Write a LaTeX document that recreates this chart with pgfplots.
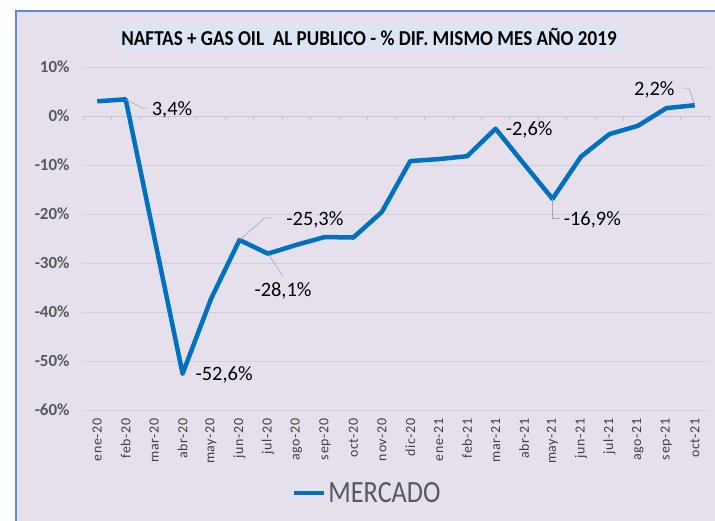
\documentclass[border=0pt]{standalone}
\usepackage{pgfplots}
\pgfplotsset{compat=1.18}
\usepackage{fontspec}
\setmainfont{Carlito}
\newfontfamily\titlefont{Carlito}[FakeStretch=0.9]
\newfontfamily\legfont{Carlito}[FakeStretch=0.85]
\newfontfamily\xtfont{Carlito}[LetterSpace=5]
\definecolor{bgc}{HTML}{E5E0EC}
\definecolor{bordc}{HTML}{5B8BD0}
\definecolor{titlebg}{HTML}{DCE6F2}
\definecolor{linec}{HTML}{0070C0}
\definecolor{gridc}{HTML}{D4D0DA}
\definecolor{zeroc}{HTML}{C8C4CE}
\definecolor{leaderc}{HTML}{A6A6A6}
\definecolor{ytc}{HTML}{595959}
\definecolor{xtc}{HTML}{404040}
\definecolor{legc}{HTML}{595959}
\begin{document}
\begin{tikzpicture}
\useasboundingbox (0bp,0bp) rectangle (715bp,521bp);
\fill[white] (0bp,0bp) rectangle (715bp,521bp);
\fill[bgc] (16bp,0bp) rectangle (715bp,510bp);
\draw[bordc, line width=1.5bp] (16bp,0bp) -- (16bp,510bp) -- (715bp,510bp);
\node[fill=titlebg, inner xsep=4bp, inner ysep=4bp, text=black, font=\titlefont\bfseries\fontsize{21.3}{21.3}\selectfont] at (369bp,484bp) {NAFTAS + GAS OIL\ \ AL PUBLICO - \% DIF. MISMO MES AÑO 2019};
\begin{axis}[
  at={(83bp,111bp)}, anchor=south west,
  scale only axis, width=626bp, height=343bp,
  xmin=-0.5, xmax=21.5, ymin=-60, ymax=10,
  axis line style={draw=none},
  major tick length=0pt,
  ytick={-60,-50,-40,-30,-20,-10,0,10},
  yticklabels={-60\%,-50\%,-40\%,-30\%,-20\%,-10\%,0\%,10\%},
  yticklabel style={font=\bfseries\fontsize{17}{17}\selectfont, text=ytc, xshift=-10bp},
  ymajorgrids, grid style={gridc, line width=0.8bp},
  xtick={0,...,21},
  xticklabels={ene-20,feb-20,mar-20,abr-20,may-20,jun-20,jul-20,ago-20,sep-20,oct-20,nov-20,dic-20,ene-21,feb-21,mar-21,abr-21,may-21,jun-21,jul-21,ago-21,sep-21,oct-21},
  xticklabel style={rotate=90, anchor=east, font=\xtfont\fontsize{14}{14}\selectfont, text=xtc, xshift=-5bp},
  clip=false,
  legend style={at={(axis description cs:0.454,-0.242)}, anchor=center, draw=none, fill=none, font=\legfont\fontsize{31}{31}\selectfont, text=legc, inner sep=0pt},
  legend image code/.code={\draw[#1, line width=4.5bp] (0bp,0bp) -- (30bp,0bp);},
]
\draw[zeroc, line width=0.8bp] (axis cs:-0.5,0) -- (axis cs:21.5,0);
\pgfplotsforeachungrouped \i in {-0.5,0.5,1.5,2.5,3.5,4.5,5.5,6.5,7.5,8.5,9.5,10.5,11.5,12.5,13.5,14.5,15.5,16.5,17.5,18.5,19.5,20.5,21.5}{%
  \edef\temp{\noexpand\draw[zeroc, line width=0.8bp] (axis cs:\i,0) -- (axis cs:\i,-1);}\temp}
\addplot[color=linec, line width=4.5bp, line join=round] coordinates {
(0,3.0) (1,3.4) (2,-24.6) (3,-52.6) (4,-37.3) (5,-25.3) (6,-28.1) (7,-26.3)
(8,-24.7) (9,-24.8) (10,-19.6) (11,-9.2) (12,-8.8) (13,-8.2) (14,-2.6)
(15,-9.8) (16,-16.9) (17,-8.3) (18,-3.7) (19,-2.0) (20,1.6) (21,2.2)
};
\addlegendentry{MERCADO}
\draw[leaderc, line width=0.6bp] (axis cs:1,3.4) -- (axis cs:1.6,1.6) -- (axis cs:1.8,1.6);
\draw[leaderc, line width=0.6bp] (axis cs:5,-25.3) -- (axis cs:5.89,-20.8) -- (axis cs:6.14,-20.8);
\draw[leaderc, line width=0.6bp] (axis cs:6,-28.1) -- (axis cs:6.53,-32.7);
\draw[leaderc, line width=0.6bp] (axis cs:16,-16.9) -- (axis cs:16,-20.8) -- (axis cs:16.25,-20.8);
\draw[leaderc, line width=0.6bp] (axis cs:21,2.2) -- (axis cs:20.8,5.7) -- (axis cs:20.56,5.7);
\node[font=\fontsize{20.5}{20.5}\selectfont, text=black] at (axis cs:2.63,1.2) {3,4\%};
\node[font=\fontsize{20.5}{20.5}\selectfont, text=black] at (axis cs:4.46,-52.9) {-52,6\%};
\node[font=\fontsize{20.5}{20.5}\selectfont, text=black] at (axis cs:7.65,-21.2) {-25,3\%};
\node[font=\fontsize{20.5}{20.5}\selectfont, text=black] at (axis cs:6.53,-35.7) {-28,1\%};
\node[font=\fontsize{20.5}{20.5}\selectfont, text=black] at (axis cs:15.18,-2.9) {-2,6\%};
\node[font=\fontsize{20.5}{20.5}\selectfont, text=black] at (axis cs:17.4,-21.1) {-16,9\%};
\node[font=\fontsize{20.5}{20.5}\selectfont, text=black] at (axis cs:19.58,5.3) {2,2\%};
\end{axis}
\end{tikzpicture}
\end{document}
